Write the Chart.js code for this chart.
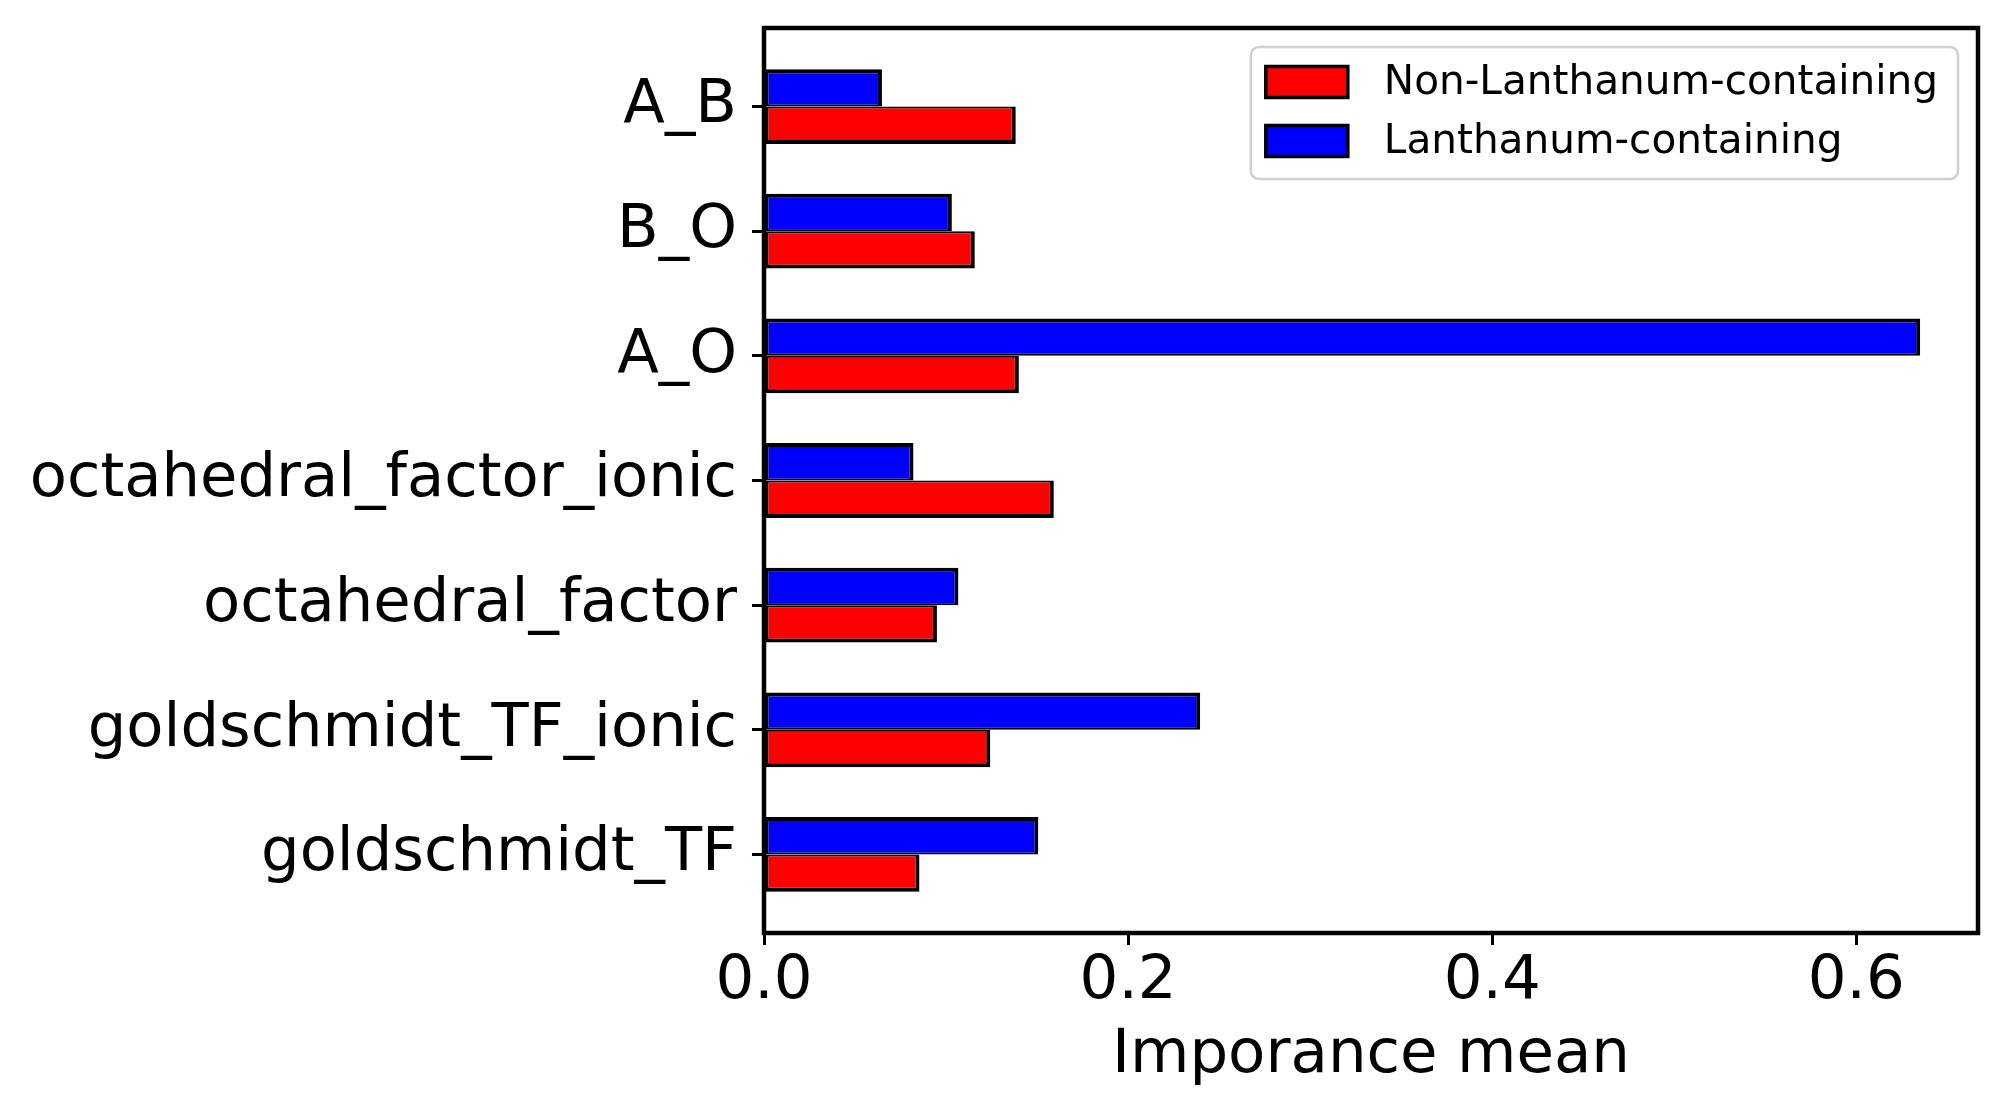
<!DOCTYPE html>
<html>
<head>
<meta charset="utf-8">
<script src="https://cdn.jsdelivr.net/npm/chart.js@4.4.1/dist/chart.umd.min.js"></script>
<style>
    html, body { margin: 0; padding: 0; background: #fff; }
    #chart { display: block; width: 2004px; height: 1116px; }
</style>
</head>
<body>
<canvas id="chart" width="2004" height="1116"></canvas>
<script>
const features = ["A_B", "B_O", "A_O", "octahedral_factor_ionic", "octahedral_factor", "goldschmidt_TF_ionic", "goldschmidt_TF"];
const lanthanum = [0.0648, 0.1032, 0.6351, 0.0821, 0.1068, 0.2396, 0.1507];
const nonLanthanum = [0.1383, 0.1158, 0.1400, 0.1592, 0.0950, 0.1243, 0.0854];
const xTicks = [0, 0.2, 0.4, 0.6];

const FONT = "'DejaVu Sans', 'Liberation Sans', sans-serif";
const xMax = Math.max(...lanthanum, ...nonLanthanum) * 1.05;

// box around the whole plot area (matplotlib spines)
const framePlugin = {
    id: "frame",
    afterDatasetsDraw(chart) {
        const { ctx, chartArea: a } = chart;
        ctx.save();
        ctx.strokeStyle = "#000";
        ctx.lineWidth = 4.5;
        ctx.strokeRect(a.left, a.top, a.right - a.left, a.bottom - a.top);
        ctx.restore();
    }
};

// legend inside the plot, top right
const legendPlugin = {
    id: "insideLegend",
    afterDraw(chart) {
        const { ctx, chartArea: a } = chart;
        const items = chart.data.datasets.slice().reverse();
        ctx.save();
        ctx.font = "40.6px " + FONT;
        const textW = Math.max(...items.map(d => ctx.measureText(d.label).width));
        const w = 15 + 82 + 36 + textW + 20;
        const h = 132;
        const right = a.right - 20;
        const left = right - w;
        const top = a.top + 19;

        ctx.beginPath();
        ctx.roundRect(left, top, w, h, 8);
        ctx.fillStyle = "rgba(255,255,255,0.8)";
        ctx.fill();
        ctx.strokeStyle = "#d0d0d0";
        ctx.lineWidth = 2.5;
        ctx.stroke();

        items.forEach((d, i) => {
            const cy = top + 35 + i * 59;
            ctx.fillStyle = d.backgroundColor;
            ctx.fillRect(left + 15, cy - 15.5, 82, 31);
            ctx.strokeStyle = "#000";
            ctx.lineWidth = 3.5;
            ctx.strokeRect(left + 15, cy - 15.5, 82, 31);
            ctx.fillStyle = "#000";
            ctx.textBaseline = "middle";
            ctx.textAlign = "left";
            ctx.fillText(d.label, left + 133, cy + 1);
        });
        ctx.restore();
    }
};

new Chart(document.getElementById("chart"), {
    type: "bar",
    data: {
        datasets: [
            {
                label: "Lanthanum-containing",
                data: lanthanum.map((v, i) => ({ x: v, y: i })),
                backgroundColor: "#0000ff",
                borderColor: "#000",
                borderWidth: { top: 4, left: 4, right: 4, bottom: 2 },
                borderSkipped: false
            },
            {
                label: "Non-Lanthanum-containing",
                data: nonLanthanum.map((v, i) => ({ x: v, y: i })),
                backgroundColor: "#ff0000",
                borderColor: "#000",
                borderWidth: { top: 2, left: 4, right: 4, bottom: 4 },
                borderSkipped: false
            }
        ]
    },
    options: {
        indexAxis: "y",
        responsive: false,
        animation: false,
        devicePixelRatio: 1,
        categoryPercentage: 0.6,
        barPercentage: 1.0,
        layout: { padding: { top: 28, right: 26, bottom: 0, left: 0 } },
        plugins: {
            legend: { display: false },
            tooltip: { enabled: false }
        },
        scales: {
            x: {
                type: "linear",
                min: 0,
                max: xMax,
                afterBuildTicks: s => { s.ticks = xTicks.map(v => ({ value: v })); },
                afterFit: s => {
                    s.height = 183;
                    s.paddingLeft = 0;
                    s.paddingRight = 0;
                },
                grid: { drawOnChartArea: false, drawTicks: true, tickLength: 12, tickWidth: 3, tickColor: "#000" },
                border: { display: false },
                ticks: {
                    padding: 1,
                    color: "#000",
                    font: { family: FONT, size: 61 },
                    callback: v => v.toFixed(1)
                },
                title: {
                    display: true,
                    text: "Imporance mean",
                    color: "#000",
                    font: { family: FONT, size: 61 },
                    padding: { top: 0, bottom: 23 }
                }
            },
            y: {
                type: "linear",
                reverse: true,
                offset: false,
                min: -0.63,
                max: features.length - 1 + 0.63,
                afterBuildTicks: s => { s.ticks = features.map((f, i) => ({ value: i })); },
                afterFit: s => {
                    s.width = 764;
                    s.paddingTop = 0;
                    s.paddingBottom = 0;
                },
                grid: { offset: false, drawOnChartArea: false, drawTicks: true, tickLength: 12, tickWidth: 3, tickColor: "#000" },
                border: { display: false },
                ticks: {
                    padding: 15,
                    color: "#000",
                    font: { family: FONT, size: 60.8 },
                    callback: v => features[v]
                }
            }
        }
    },
    plugins: [framePlugin, legendPlugin]
});
</script>
</body>
</html>
